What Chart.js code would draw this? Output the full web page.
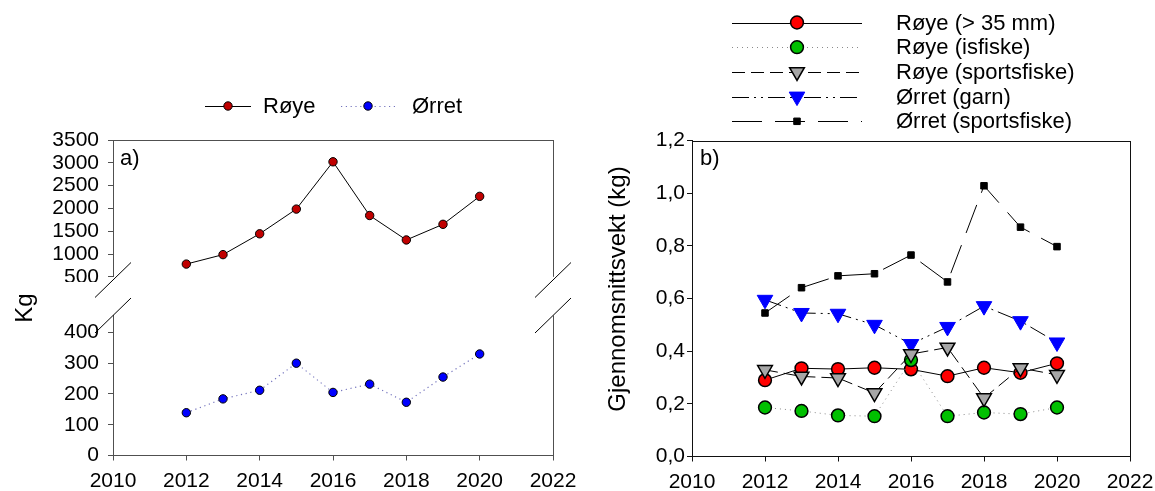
<!DOCTYPE html>
<html lang="no">
<head>
<meta charset="utf-8">
<title>Fangst og gjennomsnittsvekt</title>
<script src="https://cdn.jsdelivr.net/npm/chart.js@4/dist/chart.umd.min.js"></script>
<style>
  html, body { margin: 0; padding: 0; background: #fff; }
  #wrap { position: relative; width: 1155px; height: 491px; background: #fff; overflow: hidden; }
  #wrap canvas { position: absolute; }
</style>
</head>
<body>
<div id="wrap">
  <canvas id="cA" width="600" height="282" style="left:0;top:0"></canvas>
  <canvas id="cB" width="600" height="241" style="left:0;top:250px"></canvas>
  <canvas id="cC" width="555" height="491" style="left:600px;top:0"></canvas>
</div>
<script>
// ---- data ----
const YEARS = [2012, 2013, 2014, 2015, 2016, 2017, 2018, 2019, 2020];

// a) total catch, kg
const ROYE_KG   = [779, 986, 1443, 1985, 3022, 1844, 1308, 1651, 2264];
const ORRET_KG  = [139, 184, 212, 300, 205, 232, 173, 255, 330];

// b) mean weight, kg
const ROYE_35        = [0.290, 0.335, 0.332, 0.337, 0.331, 0.305, 0.337, 0.318, 0.354];
const ROYE_ISFISKE   = [0.186, 0.173, 0.156, 0.153, 0.366, 0.153, 0.167, 0.161, 0.186];
const ROYE_SPORT     = [0.329, 0.304, 0.298, 0.241, 0.389, 0.414, 0.222, 0.336, 0.310];
const ORRET_GARN     = [0.595, 0.545, 0.542, 0.500, 0.427, 0.492, 0.571, 0.514, 0.433];
const ORRET_SPORT    = [0.545, 0.641, 0.686, 0.694, 0.765, 0.663, 1.028, 0.871, 0.797];

const LABELS_A = ['Røye', 'Ørret'];
const LABELS_B = ['Røye (> 35 mm)', 'Røye (isfiske)', 'Røye (sportsfiske)', 'Ørret (garn)', 'Ørret (sportsfiske)'];

const X_MIN = 2010, X_MAX = 2022, X_STEP = 2;

// ---- helpers ----
const FONT = "'Liberation Sans', Arial, Helvetica, sans-serif";
const TICK_SIZE = 21;
Chart.defaults.font.family = FONT;
Chart.defaults.color = '#000';

const pts = arr => YEARS.map((x, i) => ({ x, y: arr[i] }));
const al = v => Math.round(v) + 0.5;

function fixWidth(w) {
  return s => { s.width = w; s.paddingTop = 0; s.paddingBottom = 0; s.paddingLeft = 0; s.paddingRight = 0; };
}
function fixHeight(h) {
  return s => { s.height = h; s.paddingTop = 0; s.paddingBottom = 0; s.paddingLeft = 0; s.paddingRight = 0; };
}

function drawMarker(ctx, ds, x, y) {
  ctx.save();
  ctx.setLineDash([]);
  ctx.fillStyle = ds.pointBackgroundColor;
  ctx.strokeStyle = ds.pointBorderColor;
  ctx.lineWidth = ds.pointBorderWidth;
  Chart.helpers.drawPoint(ctx, {
    pointStyle: ds.pointStyle,
    rotation: ds.pointRotation || 0,
    radius: ds.pointRadius,
    borderWidth: ds.pointBorderWidth
  }, x, y);
  ctx.restore();
}

function legendRow(ctx, ds, label, x0, x1, xm, y, tx, font) {
  ctx.save();
  ctx.strokeStyle = ds.borderColor;
  ctx.lineWidth = ds.borderWidth;
  ctx.setLineDash(ds.borderDash || []);
  ctx.beginPath();
  ctx.moveTo(x0, Math.round(y) + 0.5);
  ctx.lineTo(x1, Math.round(y) + 0.5);
  ctx.stroke();
  ctx.restore();
  drawMarker(ctx, ds, xm, y);
  ctx.save();
  ctx.fillStyle = '#000';
  ctx.font = font;
  ctx.textAlign = 'left';
  ctx.textBaseline = 'middle';
  ctx.fillText(label, tx, y + 1);
  ctx.restore();
}

function line(ctx, x0, y0, x1, y1, color) {
  ctx.save();
  ctx.strokeStyle = color;
  ctx.lineWidth = 1;
  ctx.beginPath();
  ctx.moveTo(x0, y0);
  ctx.lineTo(x1, y1);
  ctx.stroke();
  ctx.restore();
}

const LEFT_AXIS = '#505050';
const RIGHT_AXIS = '#111';

// ---- dataset styles ----
const dsRoyeKg = {
  label: LABELS_A[0], data: pts(ROYE_KG),
  borderColor: '#000', borderWidth: 1, borderDash: [],
  pointStyle: 'circle', pointRadius: 4.2, pointBorderWidth: 1,
  pointBackgroundColor: '#c00000', pointBorderColor: '#000'
};
const dsOrretKg = {
  label: LABELS_A[1], data: pts(ORRET_KG),
  borderColor: '#7373bd', borderWidth: 1.2, borderDash: [1.2, 3.6],
  pointStyle: 'circle', pointRadius: 4.2, pointBorderWidth: 1,
  pointBackgroundColor: '#0000ff', pointBorderColor: '#000'
};

const dsB = [
  { label: LABELS_B[0], data: pts(ROYE_35), order: 5,
    borderColor: '#000', borderWidth: 1, borderDash: [],
    pointStyle: 'circle', pointRadius: 6.4, pointBorderWidth: 1.5,
    pointBackgroundColor: '#ff0000', pointBorderColor: '#000' },
  { label: LABELS_B[1], data: pts(ROYE_ISFISKE), order: 4,
    borderColor: '#8a8a8a', borderWidth: 1, borderDash: [1, 4],
    pointStyle: 'circle', pointRadius: 6.4, pointBorderWidth: 1.5,
    pointBackgroundColor: '#00c000', pointBorderColor: '#000' },
  { label: LABELS_B[2], data: pts(ROYE_SPORT), order: 2,
    borderColor: '#000', borderWidth: 1, borderDash: [13, 6],
    pointStyle: 'triangle', pointRotation: 180, pointRadius: 8.5, pointBorderWidth: 1.5,
    pointBackgroundColor: '#a6a6a6', pointBorderColor: '#000' },
  { label: LABELS_B[3], data: pts(ORRET_GARN), order: 3,
    borderColor: '#000', borderWidth: 1, borderDash: [17, 5, 2, 5, 2, 5],
    pointStyle: 'triangle', pointRotation: 180, pointRadius: 9, pointBorderWidth: 1,
    pointBackgroundColor: '#0000ff', pointBorderColor: '#0000ff' },
  { label: LABELS_B[4], data: pts(ORRET_SPORT), order: 1,
    borderColor: '#000', borderWidth: 1, borderDash: [30, 13],
    pointStyle: 'rect', pointRadius: 4.6, pointBorderWidth: 1,
    pointBackgroundColor: '#000', pointBorderColor: '#000' }
];

const lineDefaults = { showLine: true, tension: 0, fill: false, pointHoverRadius: 0 };
const baseOpts = {
  responsive: false, animation: false, devicePixelRatio: 1,
  events: [],
  plugins: { legend: { display: false }, tooltip: { enabled: false } }
};

// ---- a) upper section: Røye ----
new Chart(document.getElementById('cA'), {
  type: 'scatter',
  data: { datasets: [Object.assign({}, lineDefaults, dsRoyeKg)] },
  options: Object.assign({}, baseOpts, {
    layout: { padding: { top: 140, right: 47, bottom: 2, left: 0 } },
    scales: {
      x: { type: 'linear', min: X_MIN, max: X_MAX, display: false },
      y: {
        type: 'linear', min: 500, max: 3500,
        ticks: { stepSize: 500, autoSkip: false, font: { size: TICK_SIZE }, padding: 9, color: '#000',
                 callback: v => String(v) },
        grid: { drawOnChartArea: false, drawTicks: true, tickLength: 5, color: LEFT_AXIS, lineWidth: 1 },
        border: { display: true, color: LEFT_AXIS, width: 1 },
        afterFit: fixWidth(113)
      }
    }
  }),
  plugins: [{
    id: 'frameA',
    afterDraw(chart) {
      const { ctx, chartArea: a } = chart;
      line(ctx, al(a.left) - 0.5, al(a.top), al(a.right) + 0.5, al(a.top), LEFT_AXIS);
      line(ctx, al(a.right), al(a.top), al(a.right), a.bottom, LEFT_AXIS);
      // legend
      const f = '22px ' + FONT;
      legendRow(ctx, dsRoyeKg, LABELS_A[0], 205, 251, 228, 106, 263, f);
      legendRow(ctx, dsOrretKg, LABELS_A[1], 341, 396, 368, 106, 412, f);
      // panel label
      ctx.save();
      ctx.fillStyle = '#000';
      ctx.font = '22px ' + FONT;
      ctx.textBaseline = 'middle';
      ctx.fillText('a)', 120, 159);
      ctx.restore();
    }
  }]
});

// ---- a) lower section: Ørret, with x axis ----
new Chart(document.getElementById('cB'), {
  type: 'scatter',
  data: { datasets: [Object.assign({}, lineDefaults, dsOrretKg)] },
  options: Object.assign({}, baseOpts, {
    layout: { padding: { top: 65.5, right: 47, bottom: 0, left: 0 } },
    scales: {
      x: {
        type: 'linear', min: X_MIN, max: X_MAX,
        ticks: { stepSize: X_STEP, autoSkip: false, font: { size: TICK_SIZE }, padding: 8, color: '#000', maxRotation: 0,
                 callback: v => String(v) },
        grid: { drawOnChartArea: false, drawTicks: true, tickLength: 5, color: LEFT_AXIS },
        border: { display: true, color: LEFT_AXIS, width: 1 },
        afterFit: fixHeight(35.5)
      },
      y: {
        type: 'linear', min: 0, max: 455,
        ticks: { stepSize: 100, autoSkip: false, includeBounds: false, font: { size: TICK_SIZE }, padding: 9, color: '#000',
                 callback: v => String(v) },
        grid: { drawOnChartArea: false, drawTicks: true, tickLength: 5, color: LEFT_AXIS },
        border: { display: true, color: LEFT_AXIS, width: 1 },
        afterFit: fixWidth(113)
      }
    }
  }),
  plugins: [{
    id: 'frameB',
    afterDraw(chart) {
      const { ctx, chartArea: a } = chart;
      line(ctx, al(a.right), a.top, al(a.right), al(a.bottom), LEFT_AXIS);
      // axis break marks (upper section ends 35 px above the lower one)
      const gap = 35.5;
      [a.left, a.right].forEach(x => {
        [a.top, a.top - gap].forEach(y => {
          line(ctx, x - 18, y + 17.5, x + 18, y - 17.5, '#000');
        });
      });
      // y title
      ctx.save();
      ctx.fillStyle = '#000';
      ctx.font = '24px ' + FONT;
      ctx.textAlign = 'center';
      ctx.textBaseline = 'middle';
      ctx.translate(25, 58);
      ctx.rotate(-Math.PI / 2);
      ctx.fillText('Kg', 0, 0);
      ctx.restore();
    }
  }]
});

// ---- b) mean weight ----
const dsObjs = dsB.map(d => Object.assign({}, lineDefaults, d));
new Chart(document.getElementById('cC'), {
  type: 'scatter',
  data: { datasets: dsObjs },
  options: Object.assign({}, baseOpts, {
    layout: { padding: { top: 140.5, right: 25, bottom: 0, left: 0 } },
    scales: {
      x: {
        type: 'linear', min: X_MIN, max: X_MAX,
        ticks: { stepSize: X_STEP, autoSkip: false, font: { size: TICK_SIZE }, padding: 8, color: '#000', maxRotation: 0,
                 callback: v => String(v) },
        grid: { drawOnChartArea: false, drawTicks: true, tickLength: 5, color: RIGHT_AXIS },
        border: { display: true, color: RIGHT_AXIS, width: 1 },
        afterFit: fixHeight(34.5)
      },
      y: {
        type: 'linear', min: 0, max: 1.2,
        ticks: { stepSize: 0.2, autoSkip: false, font: { size: TICK_SIZE }, padding: 2, color: '#000',
                 callback: v => v.toFixed(1).replace('.', ',') },
        grid: { drawOnChartArea: false, drawTicks: true, tickLength: 5, color: RIGHT_AXIS },
        border: { display: true, color: RIGHT_AXIS, width: 1 },
        afterFit: fixWidth(92)
      }
    }
  }),
  plugins: [{
    id: 'frameC',
    afterDraw(chart) {
      const { ctx, chartArea: a } = chart;
      line(ctx, al(a.left) - 0.5, al(a.top), al(a.right) + 0.5, al(a.top), RIGHT_AXIS);
      line(ctx, al(a.right), al(a.top), al(a.right), al(a.bottom), RIGHT_AXIS);
      // legend rows
      const f = '22px ' + FONT;
      const ox = -600;
      dsObjs.forEach((d, i) => {
        legendRow(ctx, d, d.label, 732 + ox, 862 + ox, 797 + ox, 22.5 + i * 24.7, 896 + ox, f);
      });
      // panel label
      ctx.save();
      ctx.fillStyle = '#000';
      ctx.font = '22px ' + FONT;
      ctx.textBaseline = 'middle';
      ctx.fillText('b)', a.left + 8, 159);
      // y title
      ctx.font = '24px ' + FONT;
      ctx.textAlign = 'center';
      ctx.translate(18, 289);
      ctx.rotate(-Math.PI / 2);
      ctx.fillText('Gjennomsnittsvekt (kg)', 0, 0);
      ctx.restore();
    }
  }]
});
</script>
</body>
</html>
